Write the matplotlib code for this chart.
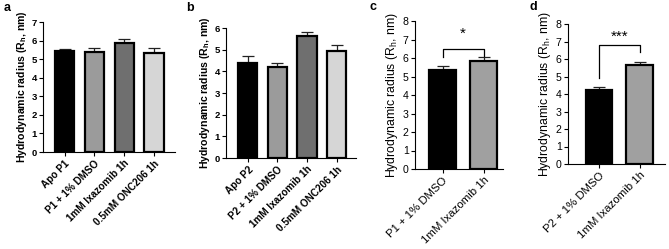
import matplotlib
matplotlib.use("Agg")
import matplotlib.pyplot as plt
import numpy as np

plt.rcParams['font.family'] = ['Liberation Sans', 'DejaVu Sans']
plt.rcParams['mathtext.fontset'] = 'custom'
plt.rcParams['mathtext.rm'] = 'Liberation Sans'
plt.rcParams['mathtext.bf'] = 'Liberation Sans:bold'

# Data
cats_a = ["Apo P1", "P1 + 1% DMSO", "1mM Ixazomib 1h", "0.5mM ONC206 1h"]
vals_a = [5.45, 5.37, 5.85, 5.33]
errs_a = [0.08, 0.22, 0.22, 0.28]

cats_b = ["Apo P2", "P2 + 1% DMSO", "1mM Ixazomib 1h", "0.5mM ONC206 1h"]
vals_b = [4.40, 4.20, 5.65, 4.93]
errs_b = [0.30, 0.20, 0.15, 0.30]

cats_c = ["P1 + 1% DMSO", "1mM Ixazomib 1h"]
vals_c = [5.37, 5.85]
errs_c = [0.20, 0.20]

cats_d = ["P2 + 1% DMSO", "1mM Ixazomib 1h"]
vals_d = [4.22, 5.65]
errs_d = [0.20, 0.15]

colors4 = ["#000000", "#9b9b9b", "#6f6f6f", "#d6d6d6"]
colors2 = ["#000000", "#a0a0a0"]

W, H = 669, 249
fig = plt.figure(figsize=(W / 100, H / 100), dpi=100)


def make_ax(left, right, bottom, top):
    return fig.add_axes([left / W, 1 - bottom / H, (right - left) / W, (bottom - top) / H])


def draw(ax, cats, vals, errs, colors, ymax, xlim, bold, fs_tick, fs_lab, fs_x):
    x = np.arange(len(cats))
    ax.bar(x, vals, width=0.65, color=colors, edgecolor="black", linewidth=1.6, zorder=2)
    ax.errorbar(x, vals, yerr=[np.zeros(len(vals)), errs], fmt="none", ecolor="#222222",
                elinewidth=0.9, capsize=4.5, capthick=0.9, zorder=1)
    ax.set_ylim(0, ymax)
    ax.set_xlim(*xlim)
    ax.set_yticks(range(0, ymax + 1))
    ax.set_xticks(x)
    w = "bold" if bold else "normal"
    ax.set_xticklabels(cats, rotation=45, ha="right", rotation_mode="anchor",
                       fontsize=fs_x, fontweight=w)
    for t in ax.get_yticklabels():
        t.set_fontsize(fs_tick)
        t.set_fontweight(w)
    for s in ["top", "right"]:
        ax.spines[s].set_visible(False)
    for s in ["left", "bottom"]:
        ax.spines[s].set_linewidth(0.8)
    ax.tick_params(length=3, width=0.8, pad=1.5)
    if bold:
        lab = r"Hydrodynamic radius (R$_\mathbf{h}$, nm)"
    else:
        lab = r"Hydrodynamic radius (R$_\mathrm{h}$, nm)"
    ax.set_ylabel(lab, fontsize=fs_lab, fontweight=w, labelpad=2)


ax_a = make_ax(43, 175, 152, 22)
draw(ax_a, cats_a, vals_a, errs_a, colors4, 7, (-0.72, 3.7), True, 6.8, 7.6, 7.2)
ax_b = make_ax(226, 356, 158, 28)
draw(ax_b, cats_b, vals_b, errs_b, colors4, 6, (-0.74, 3.66), True, 6.8, 7.6, 7.2)
ax_c = make_ax(415, 503, 169, 21)
draw(ax_c, cats_c, vals_c, errs_c, colors2, 8, (-0.67, 1.47), False, 7.6, 8.8, 8.2)
ax_d = make_ax(568, 665, 164, 24)
draw(ax_d, cats_d, vals_d, errs_d, colors2, 8, (-0.76, 1.62), False, 7.6, 8.8, 8.2)


def bracket(ax, y, yl, yr, text, ty, fs):
    ax.plot([0, 0, 1, 1], [yl, y, y, yr], color="black", lw=0.9, clip_on=False)
    ax.text(0.5, ty, text, ha="center", va="center", fontsize=fs, clip_on=False)


bracket(ax_c, 6.47, 6.07, 6.1, "*", 7.3, 11)
bracket(ax_d, 6.8, 4.9, 6.4, "***", 7.25, 11)

for lbl, px, py in [("a", 7, 8), ("b", 190, 8), ("c", 373, 7), ("d", 533, 7)]:
    fig.text(px / W, 1 - py / H, lbl, fontsize=9, fontweight="bold", ha="center", va="center")

fig.savefig("out.png", dpi=100)
